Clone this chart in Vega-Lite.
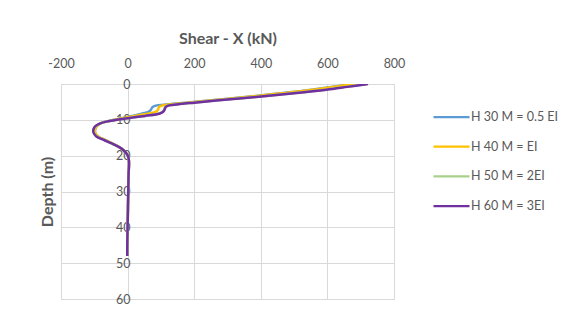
{
  "$schema": "https://vega.github.io/schema/vega-lite/v6.json",
  "autosize": "none",
  "width": 333,
  "height": 215,
  "padding": {"left": 61, "top": 84, "right": 192, "bottom": 18},
  "background": "white",
  "config": {
    "view": {"stroke": null},
    "font": "Lato",
    "axis": {"gridColor": "#d9d9d9", "gridWidth": 1, "ticks": false, "domain": false, "labelColor": "#595959", "titleColor": "#595959", "labelFont": "Lato", "titleFont": "Lato"}
  },
  "datasets": {
    "rows": [
      {"series": "H 30 M = 0.5 EI", "depth": 0, "shear": 675},
      {"series": "H 30 M = 0.5 EI", "depth": 0.8, "shear": 612},
      {"series": "H 30 M = 0.5 EI", "depth": 1.6, "shear": 552},
      {"series": "H 30 M = 0.5 EI", "depth": 2.6, "shear": 458},
      {"series": "H 30 M = 0.5 EI", "depth": 3.5, "shear": 368},
      {"series": "H 30 M = 0.5 EI", "depth": 4.3, "shear": 278},
      {"series": "H 30 M = 0.5 EI", "depth": 5.2, "shear": 175},
      {"series": "H 30 M = 0.5 EI", "depth": 5.8, "shear": 108},
      {"series": "H 30 M = 0.5 EI", "depth": 6.1, "shear": 82},
      {"series": "H 30 M = 0.5 EI", "depth": 6.5, "shear": 74},
      {"series": "H 30 M = 0.5 EI", "depth": 7.2, "shear": 70},
      {"series": "H 30 M = 0.5 EI", "depth": 7.7, "shear": 64},
      {"series": "H 30 M = 0.5 EI", "depth": 8.1, "shear": 50},
      {"series": "H 30 M = 0.5 EI", "depth": 8.6, "shear": 30},
      {"series": "H 30 M = 0.5 EI", "depth": 9.3, "shear": -5},
      {"series": "H 30 M = 0.5 EI", "depth": 10, "shear": -40},
      {"series": "H 30 M = 0.5 EI", "depth": 10.5, "shear": -66},
      {"series": "H 30 M = 0.5 EI", "depth": 11, "shear": -82},
      {"series": "H 30 M = 0.5 EI", "depth": 11.7, "shear": -92},
      {"series": "H 30 M = 0.5 EI", "depth": 12.5, "shear": -97},
      {"series": "H 30 M = 0.5 EI", "depth": 13.3, "shear": -98},
      {"series": "H 30 M = 0.5 EI", "depth": 14, "shear": -95},
      {"series": "H 30 M = 0.5 EI", "depth": 14.7, "shear": -87},
      {"series": "H 30 M = 0.5 EI", "depth": 15.6, "shear": -68},
      {"series": "H 30 M = 0.5 EI", "depth": 16.6, "shear": -46},
      {"series": "H 30 M = 0.5 EI", "depth": 17.5, "shear": -27},
      {"series": "H 30 M = 0.5 EI", "depth": 18.4, "shear": -13},
      {"series": "H 30 M = 0.5 EI", "depth": 19.3, "shear": -4},
      {"series": "H 30 M = 0.5 EI", "depth": 20.3, "shear": 2},
      {"series": "H 30 M = 0.5 EI", "depth": 21.5, "shear": 4},
      {"series": "H 30 M = 0.5 EI", "depth": 23, "shear": 4},
      {"series": "H 30 M = 0.5 EI", "depth": 25, "shear": 3},
      {"series": "H 30 M = 0.5 EI", "depth": 30, "shear": 2},
      {"series": "H 30 M = 0.5 EI", "depth": 35, "shear": 1},
      {"series": "H 30 M = 0.5 EI", "depth": 40, "shear": 0},
      {"series": "H 30 M = 0.5 EI", "depth": 45, "shear": -1},
      {"series": "H 30 M = 0.5 EI", "depth": 48, "shear": -1},

      {"series": "H 40 M = EI", "depth": 0, "shear": 680},
      {"series": "H 40 M = EI", "depth": 0.8, "shear": 617},
      {"series": "H 40 M = EI", "depth": 1.6, "shear": 556},
      {"series": "H 40 M = EI", "depth": 2.6, "shear": 462},
      {"series": "H 40 M = EI", "depth": 3.5, "shear": 372},
      {"series": "H 40 M = EI", "depth": 4.3, "shear": 282},
      {"series": "H 40 M = EI", "depth": 5.2, "shear": 180},
      {"series": "H 40 M = EI", "depth": 5.8, "shear": 118},
      {"series": "H 40 M = EI", "depth": 6.1, "shear": 100},
      {"series": "H 40 M = EI", "depth": 6.5, "shear": 94},
      {"series": "H 40 M = EI", "depth": 7.2, "shear": 91},
      {"series": "H 40 M = EI", "depth": 7.7, "shear": 86},
      {"series": "H 40 M = EI", "depth": 8.1, "shear": 72},
      {"series": "H 40 M = EI", "depth": 8.6, "shear": 42},
      {"series": "H 40 M = EI", "depth": 9.3, "shear": 0},
      {"series": "H 40 M = EI", "depth": 10, "shear": -38},
      {"series": "H 40 M = EI", "depth": 10.5, "shear": -65},
      {"series": "H 40 M = EI", "depth": 11, "shear": -81},
      {"series": "H 40 M = EI", "depth": 11.7, "shear": -92},
      {"series": "H 40 M = EI", "depth": 12.5, "shear": -97},
      {"series": "H 40 M = EI", "depth": 13.3, "shear": -98},
      {"series": "H 40 M = EI", "depth": 14, "shear": -95},
      {"series": "H 40 M = EI", "depth": 14.7, "shear": -87},
      {"series": "H 40 M = EI", "depth": 15.6, "shear": -68},
      {"series": "H 40 M = EI", "depth": 16.6, "shear": -46},
      {"series": "H 40 M = EI", "depth": 17.5, "shear": -27},
      {"series": "H 40 M = EI", "depth": 18.4, "shear": -13},
      {"series": "H 40 M = EI", "depth": 19.3, "shear": -4},
      {"series": "H 40 M = EI", "depth": 20.3, "shear": 2},
      {"series": "H 40 M = EI", "depth": 21.5, "shear": 4},
      {"series": "H 40 M = EI", "depth": 23, "shear": 4},
      {"series": "H 40 M = EI", "depth": 25, "shear": 3},
      {"series": "H 40 M = EI", "depth": 30, "shear": 2},
      {"series": "H 40 M = EI", "depth": 35, "shear": 1},
      {"series": "H 40 M = EI", "depth": 40, "shear": 0},
      {"series": "H 40 M = EI", "depth": 45, "shear": -1},
      {"series": "H 40 M = EI", "depth": 48, "shear": -1},

      {"series": "H 50 M = 2EI", "depth": 0, "shear": 718},
      {"series": "H 50 M = 2EI", "depth": 0.8, "shear": 656},
      {"series": "H 50 M = 2EI", "depth": 1.6, "shear": 594},
      {"series": "H 50 M = 2EI", "depth": 2.6, "shear": 497},
      {"series": "H 50 M = 2EI", "depth": 3.5, "shear": 398},
      {"series": "H 50 M = 2EI", "depth": 4.3, "shear": 298},
      {"series": "H 50 M = 2EI", "depth": 5.2, "shear": 198},
      {"series": "H 50 M = 2EI", "depth": 5.8, "shear": 138},
      {"series": "H 50 M = 2EI", "depth": 6.1, "shear": 118},
      {"series": "H 50 M = 2EI", "depth": 6.5, "shear": 112},
      {"series": "H 50 M = 2EI", "depth": 7.2, "shear": 109},
      {"series": "H 50 M = 2EI", "depth": 7.8, "shear": 104},
      {"series": "H 50 M = 2EI", "depth": 8.3, "shear": 93},
      {"series": "H 50 M = 2EI", "depth": 8.9, "shear": 51},
      {"series": "H 50 M = 2EI", "depth": 9.5, "shear": 4},
      {"series": "H 50 M = 2EI", "depth": 10, "shear": -33},
      {"series": "H 50 M = 2EI", "depth": 10.5, "shear": -64},
      {"series": "H 50 M = 2EI", "depth": 11, "shear": -82},
      {"series": "H 50 M = 2EI", "depth": 11.7, "shear": -95},
      {"series": "H 50 M = 2EI", "depth": 12.5, "shear": -101},
      {"series": "H 50 M = 2EI", "depth": 13.3, "shear": -102},
      {"series": "H 50 M = 2EI", "depth": 14, "shear": -99},
      {"series": "H 50 M = 2EI", "depth": 14.7, "shear": -92},
      {"series": "H 50 M = 2EI", "depth": 15.6, "shear": -71},
      {"series": "H 50 M = 2EI", "depth": 16.6, "shear": -48},
      {"series": "H 50 M = 2EI", "depth": 17.5, "shear": -28},
      {"series": "H 50 M = 2EI", "depth": 18.4, "shear": -13},
      {"series": "H 50 M = 2EI", "depth": 19.3, "shear": -4},
      {"series": "H 50 M = 2EI", "depth": 20.3, "shear": 2},
      {"series": "H 50 M = 2EI", "depth": 21.5, "shear": 4},
      {"series": "H 50 M = 2EI", "depth": 23, "shear": 4},
      {"series": "H 50 M = 2EI", "depth": 25, "shear": 3},
      {"series": "H 50 M = 2EI", "depth": 30, "shear": 2},
      {"series": "H 50 M = 2EI", "depth": 35, "shear": 1},
      {"series": "H 50 M = 2EI", "depth": 40, "shear": 0},
      {"series": "H 50 M = 2EI", "depth": 45, "shear": -1},
      {"series": "H 50 M = 2EI", "depth": 48, "shear": -1},

      {"series": "H 60 M = 3EI", "depth": 0, "shear": 722},
      {"series": "H 60 M = 3EI", "depth": 0.8, "shear": 660},
      {"series": "H 60 M = 3EI", "depth": 1.6, "shear": 597},
      {"series": "H 60 M = 3EI", "depth": 2.6, "shear": 500},
      {"series": "H 60 M = 3EI", "depth": 3.5, "shear": 401},
      {"series": "H 60 M = 3EI", "depth": 4.3, "shear": 300},
      {"series": "H 60 M = 3EI", "depth": 5.2, "shear": 200},
      {"series": "H 60 M = 3EI", "depth": 5.8, "shear": 140},
      {"series": "H 60 M = 3EI", "depth": 6.1, "shear": 120},
      {"series": "H 60 M = 3EI", "depth": 6.5, "shear": 114},
      {"series": "H 60 M = 3EI", "depth": 7.2, "shear": 111},
      {"series": "H 60 M = 3EI", "depth": 7.8, "shear": 106},
      {"series": "H 60 M = 3EI", "depth": 8.3, "shear": 95},
      {"series": "H 60 M = 3EI", "depth": 8.9, "shear": 52},
      {"series": "H 60 M = 3EI", "depth": 9.5, "shear": 5},
      {"series": "H 60 M = 3EI", "depth": 10, "shear": -33},
      {"series": "H 60 M = 3EI", "depth": 10.5, "shear": -64},
      {"series": "H 60 M = 3EI", "depth": 11, "shear": -82},
      {"series": "H 60 M = 3EI", "depth": 11.7, "shear": -96},
      {"series": "H 60 M = 3EI", "depth": 12.5, "shear": -102},
      {"series": "H 60 M = 3EI", "depth": 13.3, "shear": -103},
      {"series": "H 60 M = 3EI", "depth": 14, "shear": -100},
      {"series": "H 60 M = 3EI", "depth": 14.7, "shear": -93},
      {"series": "H 60 M = 3EI", "depth": 15.6, "shear": -72},
      {"series": "H 60 M = 3EI", "depth": 16.6, "shear": -48},
      {"series": "H 60 M = 3EI", "depth": 17.5, "shear": -28},
      {"series": "H 60 M = 3EI", "depth": 18.4, "shear": -13},
      {"series": "H 60 M = 3EI", "depth": 19.3, "shear": -4},
      {"series": "H 60 M = 3EI", "depth": 20.3, "shear": 2},
      {"series": "H 60 M = 3EI", "depth": 21.5, "shear": 4},
      {"series": "H 60 M = 3EI", "depth": 23, "shear": 4},
      {"series": "H 60 M = 3EI", "depth": 25, "shear": 3},
      {"series": "H 60 M = 3EI", "depth": 30, "shear": 2},
      {"series": "H 60 M = 3EI", "depth": 35, "shear": 1},
      {"series": "H 60 M = 3EI", "depth": 40, "shear": 0},
      {"series": "H 60 M = 3EI", "depth": 45, "shear": -1},
      {"series": "H 60 M = 3EI", "depth": 48, "shear": -1}
    ]
  },
  "data": {"name": "rows"},
  "mark": {"type": "line", "strokeWidth": 2.5, "interpolate": "catmull-rom", "clip": true},
  "encoding": {
    "x": {
      "field": "shear", "type": "quantitative",
      "scale": {"domain": [-200, 800], "nice": false, "zero": false},
      "axis": {
        "orient": "top", "values": [-200, 0, 200, 400, 600, 800],
        "labelExpr": "datum.value + ''",
        "title": "Shear - X (kN)", "titleFontSize": 16, "titleFontWeight": "bold",
        "labelFontSize": 12.5, "labelPadding": 14, "titleY": -46, "titleBaseline": "middle",
        "labelFlush": false
      }
    },
    "y": {
      "field": "depth", "type": "quantitative",
      "scale": {"domain": [0, 60], "reverse": true, "nice": false},
      "axis": {
        "values": [0, 10, 20, 30, 40, 50, 60],
        "title": "Depth (m)", "titleFontSize": 16, "titleFontWeight": "bold",
        "labelFontSize": 12.5, "labelPadding": -69, "labelAlign": "right", "labelFlush": false,
        "titleX": -14, "titleY": 107.5, "titleBaseline": "middle", "titleAngle": -90
      }
    },
    "color": {
      "field": "series", "type": "nominal",
      "scale": {
        "domain": ["H 30 M = 0.5 EI", "H 40 M = EI", "H 50 M = 2EI", "H 60 M = 3EI"],
        "range": ["#5b9bd5", "#ffc000", "#a9d18e", "#7030a0"]
      },
      "legend": {
        "title": null, "orient": "none", "legendX": 371, "legendY": 19,
        "symbolType": "stroke", "symbolSize": 1296, "symbolStrokeWidth": 2.25,
        "labelFont": "Lato", "labelFontSize": 12.5, "labelColor": "#595959",
        "labelOffset": 0, "rowPadding": 1.7, "clipHeight": 28, "padding": 0
      }
    },
    "order": {"field": "depth", "type": "quantitative"}
  }
}
